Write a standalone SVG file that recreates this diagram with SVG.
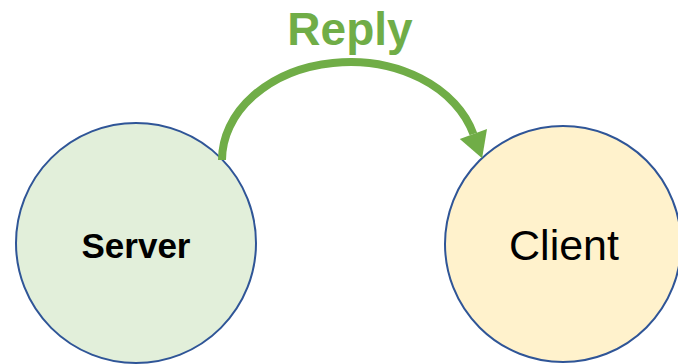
<svg xmlns="http://www.w3.org/2000/svg" width="678" height="364" viewBox="0 0 678 364">
<style>
.node{stroke:#2F5597;stroke-width:2}
.lbl{font-family:"Liberation Sans",Arial,sans-serif;text-anchor:middle;fill:#000}
.conn{fill:none;stroke:#70AD47;stroke-width:8}
</style>
<defs>
<marker id="ah" markerUnits="userSpaceOnUse" markerWidth="30" markerHeight="30" viewBox="0 -14 25 28" refX="0" refY="0" orient="auto">
<path d="M0,-13.5 L24,0 L0,13.5 z" fill="#70AD47"/>
</marker>
</defs>
<rect width="678" height="364" fill="#fff"/>
<g id="server">
<circle class="node" cx="136" cy="243" r="120" fill="#E2EFDA"/>
<text class="lbl" x="136" y="258" font-size="35" font-weight="bold">Server</text>
</g>
<g id="client">
<circle class="node" cx="563" cy="244" r="118" fill="#FFF2CC"/>
<text class="lbl" x="564" y="260" font-size="43">Client</text>
</g>
<g id="connectors">
<path class="conn" d="M222,160 A128 98 0 0 1 473.4,134" marker-end="url(#ah)"/>
<text x="350" y="45" font-family="Liberation Sans,Arial,sans-serif" font-weight="bold" font-size="46" fill="#70AD47" text-anchor="middle">Reply</text>
</g>
</svg>
